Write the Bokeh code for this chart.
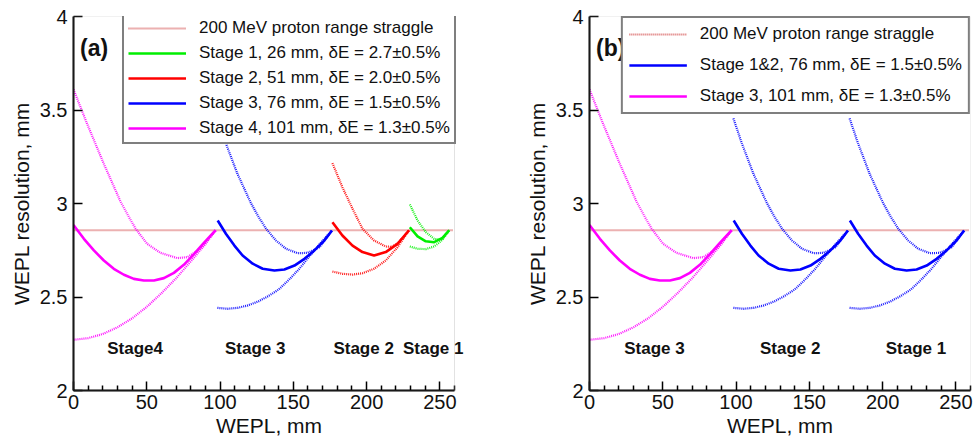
from bokeh.plotting import figure
from bokeh.models import Legend, LegendItem, Label, FixedTicker, Range1d, BoxAnnotation
from bokeh.layouts import row
from bokeh.embed import file_html
from bokeh.resources import INLINE

# ---------------- data ----------------
straggle_x = [0, 259]
straggle_y = [2.857, 2.857]

# 101 mm stage (magenta)
mag_solid_x = [0, 7.1, 13.9, 20.7, 27.5, 34.4, 41.2, 48, 54.9, 61.7, 68.5, 75.3, 82.2, 89, 97]
mag_solid_y = [2.885, 2.811, 2.749, 2.695, 2.651, 2.619, 2.597, 2.588, 2.588, 2.601, 2.629,
               2.672, 2.729, 2.790, 2.857]
mag_up_x = [0, 9.3, 20.7, 32.1, 37.8, 42.3, 50.3, 59.4, 70.8, 77.7, 86.7, 97]
mag_up_y = [3.61, 3.426, 3.212, 3.010, 2.928, 2.866, 2.784, 2.736, 2.708, 2.713, 2.758, 2.857]
mag_lo_x = [0, 10, 20, 30, 40, 50, 60, 70, 80, 90, 97]
mag_lo_y = [2.271, 2.280, 2.302, 2.338, 2.386, 2.447, 2.520, 2.600, 2.690, 2.783, 2.857]

# 76 mm stage (blue)
blue_solid_x = [98.4, 104, 109.8, 115.4, 122.3, 129.1, 137.1, 143.9, 150.8, 157.6, 164.4,
                171.2, 176.4]
blue_solid_y = [2.909, 2.838, 2.775, 2.722, 2.678, 2.651, 2.642, 2.647, 2.668, 2.704, 2.749,
                2.802, 2.856]
blue_up_x = [98.2, 103.8, 111.8, 120.9, 125.7, 131.4, 138.2, 145, 153, 159.8, 167.8, 176.4]
blue_up_y = [3.455, 3.325, 3.16, 3.005, 2.936, 2.865, 2.802, 2.758, 2.734, 2.736, 2.766, 2.856]
blue_lo_x = [98.2, 105, 112, 119, 126, 133, 140, 147, 154, 161, 169, 176.4]
blue_lo_y = [2.442, 2.437, 2.442, 2.455, 2.476, 2.505, 2.540, 2.592, 2.650, 2.718, 2.792, 2.856]

# 76 mm stage placed as Stage 1 in panel (b)
blue1_solid_x = [177.7, 183.3, 189.1, 194.7, 201.6, 208.4, 216.4, 223.2, 230.1, 236.9, 243.7,
                 250.5, 255.7]
blue1_up_x = [177.5, 183.1, 191.1, 200.2, 205.0, 210.7, 217.5, 224.3, 232.3, 239.1, 247.1, 255.7]
blue1_lo_x = [177.5, 184.3, 191.3, 198.3, 205.3, 212.3, 219.3, 226.3, 233.3, 240.3, 248.3, 255.7]

# 51 mm stage (red)
red_solid_x = [176.7, 183.5, 190.4, 197.2, 205.1, 213.1, 221.1, 229]
red_solid_y = [2.900, 2.829, 2.775, 2.740, 2.722, 2.740, 2.784, 2.857]
red_up_x = [176.7, 183.5, 190.4, 197.2, 205.1, 213.1, 217, 221.1, 229]
red_up_y = [3.216, 3.087, 2.972, 2.865, 2.802, 2.770, 2.768, 2.786, 2.857]
red_lo_x = [176.7, 183.5, 190.4, 197.2, 205.1, 213.1, 221.1, 229]
red_lo_y = [2.636, 2.624, 2.620, 2.627, 2.651, 2.695, 2.766, 2.857]

# 26 mm stage (green)
green_solid_x = [229.5, 234.8, 240.4, 246.1, 251.8, 256.4]
green_solid_y = [2.873, 2.824, 2.798, 2.793, 2.816, 2.857]
green_up_x = [229.5, 234.8, 240.4, 246.1, 250.7, 256.4]
green_up_y = [2.995, 2.909, 2.847, 2.811, 2.806, 2.857]
green_lo_x = [229.5, 234.8, 240.4, 246.1, 251.8, 256.4]
green_lo_y = [2.770, 2.758, 2.756, 2.770, 2.806, 2.857]

stage_names_a = ["Stage4", "Stage 3", "Stage 2", "Stage 1"]
stage_x_a = [42, 124, 198, 245.5]
stage_names_b = ["Stage 3", "Stage 2", "Stage 1"]
stage_x_b = [44.3, 137, 222.8]
stage_label_y = 2.226

legend_a = ["200 MeV proton range straggle",
            "Stage 1, 26 mm, \u03b4E = 2.7\u00b10.5%",
            "Stage 2, 51 mm, \u03b4E = 2.0\u00b10.5%",
            "Stage 3, 76 mm, \u03b4E = 1.5\u00b10.5%",
            "Stage 4, 101 mm, \u03b4E = 1.3\u00b10.5%"]
legend_b = ["200 MeV proton range straggle",
            "Stage 1&2, 76 mm, \u03b4E = 1.5\u00b10.5%",
            "Stage 3, 101 mm, \u03b4E = 1.3\u00b10.5%"]

x_ticks = [0, 50, 100, 150, 200, 250]
x_minor = [10, 20, 30, 40, 60, 70, 80, 90, 110, 120, 130, 140, 160, 170, 180, 190,
           210, 220, 230, 240, 260]
y_ticks = [2, 2.5, 3, 3.5, 4]
X_MAX, Y_MIN, Y_MAX = 260, 2, 4

FONT = "Liberation Sans"
MAG, BLUE, RED, GREEN = "#ff00ff", "#0000ff", "#ff0000", "#00ee00"
STRAG = "#d86262"

FRAME_W = 381          # pixels for 0..260 mm
PX_PER_MM = FRAME_W / X_MAX


def base_fig(bl, br, extra=0):
    # 'extra' pixels of frame beyond 260 mm (kept empty) so that a label may overhang
    x_end = X_MAX + extra / PX_PER_MM
    p = figure(width=487, height=441, output_backend="svg", toolbar_location=None,
               x_range=Range1d(0, x_end), y_range=Range1d(Y_MIN, Y_MAX),
               min_border_left=bl, min_border_right=br - extra, min_border_top=16,
               min_border_bottom=51)
    p.grid.visible = False
    p.outline_line_color = None
    p.background_fill_color = "white"
    p.border_fill_color = "white"
    p.add_layout(BoxAnnotation(left=0, right=X_MAX, bottom=Y_MIN, top=Y_MAX,
                               fill_alpha=0, line_color="#a0a0a0", line_width=1))
    p.xaxis.ticker = FixedTicker(ticks=x_ticks, minor_ticks=x_minor)
    p.yaxis.ticker = FixedTicker(ticks=y_ticks, minor_ticks=[])
    p.xaxis.bounds = (0, X_MAX)
    p.yaxis.major_label_overrides = {2: "2", 3: "3", 4: "4"}
    for ax in (p.xaxis[0], p.yaxis[0]):
        ax.axis_line_width = 2
        ax.axis_line_color = "black"
        ax.major_tick_in = 9
        ax.major_tick_out = 0
        ax.minor_tick_in = 5
        ax.minor_tick_out = 0
        ax.major_tick_line_width = 1.5
        ax.minor_tick_line_width = 1.5
        ax.major_tick_line_color = "black"
        ax.minor_tick_line_color = "black"
        ax.major_label_text_font = FONT
        ax.major_label_text_font_size = "20px"
        ax.major_label_text_color = "#111111"
        ax.axis_label_text_font = FONT
        ax.axis_label_text_font_size = "21px"
        ax.axis_label_text_font_style = "normal"
        ax.axis_label_text_color = "#111111"
    p.xaxis.axis_label = "WEPL, mm"
    p.yaxis.axis_label = "WEPL resolution, mm"
    p.xaxis.major_label_standoff = 4
    p.yaxis.major_label_standoff = 6
    p.xaxis.axis_label_standoff = 2
    p.yaxis.axis_label_standoff = 4
    return p


def stage(p, xs, ys, xu, yu, xl, yl, color):
    p.line(xu, yu, line_color=color, line_width=2.2, line_dash="1 1", line_alpha=0.9)
    p.line(xl, yl, line_color=color, line_width=2.2, line_dash="1 1", line_alpha=0.9)
    return p.line(xs, ys, line_color=color, line_width=2.6, line_join="round")


def add_legend(p, items, spacing, padding, location):
    leg = Legend(items=items, location=location, margin=0, padding=padding,
                 spacing=spacing, label_height=20, glyph_height=20, glyph_width=58,
                 label_standoff=13, label_text_font=FONT, label_text_font_size="17px",
                 label_text_color="#111111",
                 border_line_color="black", border_line_width=2,
                 background_fill_color="white", background_fill_alpha=1)
    p.add_layout(leg)


def add_labels(p, names, xs, tag):
    for n, x in zip(names, xs):
        p.add_layout(Label(x=x, y=stage_label_y, text=n,
                           text_align="center", text_baseline="middle", text_font=FONT,
                           text_font_style="bold", text_font_size="17px",
                           text_color="#111111"))
    p.add_layout(Label(x=4.5, y=3.834, text=tag, text_align="left",
                       text_baseline="middle", text_font=FONT,
                       text_font_style="bold", text_font_size="23px",
                       text_color="#111111"))


# ---------------- panel (a) ----------------
pa = base_fig(73, 33, extra=10)
rs_a = pa.line(straggle_x, straggle_y, line_color=STRAG, line_width=2, line_dash="1 1")
r4 = stage(pa, mag_solid_x, mag_solid_y, mag_up_x, mag_up_y, mag_lo_x, mag_lo_y, MAG)
r3 = stage(pa, blue_solid_x, blue_solid_y, blue_up_x, blue_up_y, blue_lo_x, blue_lo_y, BLUE)
r2 = stage(pa, red_solid_x, red_solid_y, red_up_x, red_up_y, red_lo_x, red_lo_y, RED)
r1 = stage(pa, green_solid_x, green_solid_y, green_up_x, green_up_y, green_lo_x, green_lo_y, GREEN)
add_legend(pa, [LegendItem(label=legend_a[0], renderers=[rs_a]),
                LegendItem(label=legend_a[1], renderers=[r1]),
                LegendItem(label=legend_a[2], renderers=[r2]),
                LegendItem(label=legend_a[3], renderers=[r3]),
                LegendItem(label=legend_a[4], renderers=[r4])], spacing=5, padding=4,
           location=(FRAME_W - 332, 374 - 128))
add_labels(pa, stage_names_a, stage_x_a, "(a)")

# ---------------- panel (b) ----------------
pb = base_fig(102, 4)
rs_b = pb.line(straggle_x, straggle_y, line_color=STRAG, line_width=2, line_dash="1 1")
rb3 = stage(pb, mag_solid_x, mag_solid_y, mag_up_x, mag_up_y, mag_lo_x, mag_lo_y, MAG)
rb2 = stage(pb, blue_solid_x, blue_solid_y, blue_up_x, blue_up_y, blue_lo_x, blue_lo_y, BLUE)
rb1 = stage(pb, blue1_solid_x, blue_solid_y, blue1_up_x, blue_up_y, blue1_lo_x, blue_lo_y, BLUE)
add_legend(pb, [LegendItem(label=legend_b[0], renderers=[rs_b]),
                LegendItem(label=legend_b[1], renderers=[rb2]),
                LegendItem(label=legend_b[2], renderers=[rb3])], spacing=11, padding=6,
           location="top_right")
add_labels(pb, stage_names_b, stage_x_b, "(b)")

layout = row(pa, pb)
open("out.html", "w").write(file_html(layout, INLINE))
